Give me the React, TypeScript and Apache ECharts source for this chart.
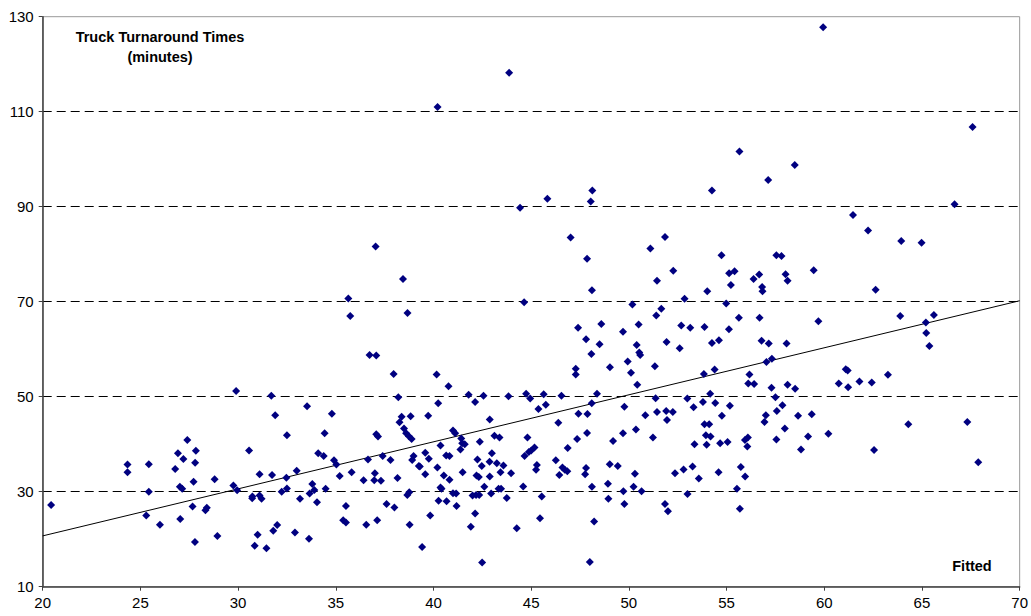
import React, { useEffect, useRef } from "react";
import * as echarts from "echarts";

const xValues: number[] = [
  20.43, 24.34, 24.34, 25.43, 25.43, 25.3, 26.0, 26.78, 26.92, 27.2, 27.4, 27.84, 27.8, 27.02, 27.14, 27.72, 27.67, 27.04, 27.79, 28.33,
  28.4, 28.8, 28.94, 29.9, 29.76, 29.95, 30.56, 30.72, 30.73, 31.1, 31.1, 31.2, 31.0, 30.85, 31.45, 31.74, 31.7, 31.9, 32.0, 31.8,
  32.23, 32.47, 32.5, 32.5, 32.91, 33.0, 33.17, 33.53, 33.66, 33.8, 33.9, 33.63, 34.04, 34.1, 34.38, 34.43, 34.48, 34.8, 34.91, 35.03,
  35.2, 35.52, 35.38, 35.52, 35.81, 36.42, 36.56, 36.65, 37.0, 36.97, 37.07, 37.16, 37.31, 37.12, 37.4, 37.6, 37.8, 38.0, 38.16, 38.2,
  38.26, 38.37, 38.49, 38.6, 38.74, 38.88, 38.83, 38.66, 38.76, 38.78, 38.91, 38.98, 39.25, 39.3, 39.58, 39.58, 39.76, 39.73, 39.42, 39.83,
  40.2, 40.24, 40.36, 40.36, 40.41, 40.26, 40.53, 40.65, 40.67, 40.77, 40.82, 40.82, 41.0, 41.11, 41.0, 41.16, 41.18, 41.42, 41.47, 41.49,
  41.38, 41.6, 41.8, 42.13, 42.56, 41.91, 42.13, 42.0, 42.18, 42.34, 42.6, 42.25, 42.2, 42.32, 42.47, 42.37, 42.49, 42.88, 42.87, 42.99,
  42.88, 42.95, 43.12, 43.24, 43.38, 43.43, 43.33, 43.46, 43.58, 43.75, 43.84, 43.97, 44.26, 44.59, 44.66, 44.81, 44.74, 44.95, 44.88, 45.0,
  45.17, 45.29, 45.25, 45.37, 45.45, 45.64, 45.75, 45.54, 46.26, 46.44, 46.55, 46.39, 46.6, 46.72, 46.85, 46.87, 47.35, 47.42, 47.88, 47.86,
  47.81, 47.76, 48.1, 48.37, 48.11, 48.22, 48.0, 48.93, 48.95, 49.02, 49.19, 49.43, 49.72, 49.77, 49.7, 49.77, 50.24, 50.31, 50.36, 50.43,
  50.65, 50.84, 51.23, 51.37, 51.44, 51.85, 52.0, 51.91, 51.95, 52.25, 52.36, 52.8, 53.0, 52.99, 53.26, 53.31, 53.36, 53.58, 53.79, 53.87,
  54.11, 53.94, 53.98, 54.18, 54.16, 54.42, 54.59, 54.67, 54.76, 55.05, 55.17, 55.53, 55.68, 55.73, 55.95, 55.94, 56.09, 56.06, 56.11, 56.41,
  56.94, 57.01, 57.3, 57.55, 57.5, 57.57, 57.86, 57.98, 58.12, 58.51, 58.66, 58.81, 59.17, 59.36, 60.21, 60.74, 61.22, 61.8, 62.43, 62.55,
  64.3, 67.32, 67.88, 44.43, 37.04, 38.44, 35.64, 35.74, 38.67, 44.64, 36.73, 37.07, 37.96, 40.16, 45.83, 48.13, 48.05, 54.25, 47.02, 47.86,
  48.11, 51.1, 51.85, 52.27, 51.44, 52.85, 54.01, 54.74, 55.13, 55.41, 55.22, 54.98, 56.38, 56.67, 56.82, 56.84, 57.55, 57.81, 58.02, 58.12,
  50.18, 51.4, 51.66, 55.63, 56.69, 47.4, 48.59, 47.81, 48.5, 48.08, 49.7, 50.5, 50.4, 50.53, 50.58, 49.94, 50.11, 49.03, 47.28, 47.28,
  51.33, 51.93, 52.6, 52.68, 53.14, 53.87, 54.25, 54.61, 55.12, 53.84, 54.39, 56.17, 56.79, 57.16, 57.04, 57.32, 58.07, 61.47, 62.24, 59.46,
  63.94, 64.98, 62.63, 66.67, 59.7, 63.89, 65.61, 65.2, 65.22, 65.38, 61.2, 61.1, 63.26, 43.87, 40.21, 55.66, 57.13, 59.94, 58.49, 67.59
];

const yValues: number[] = [
  27.2, 35.75, 34.07, 35.8, 30.0, 25.0, 23.05, 34.77, 38.07, 36.9, 40.9, 38.6, 36.1, 31.05, 30.6, 32.1, 26.9, 24.25, 19.4, 26.1,
  26.6, 32.6, 20.7, 51.2, 31.3, 30.3, 38.7, 28.6, 29.0, 33.65, 29.2, 28.5, 20.95, 18.6, 18.1, 33.5, 50.2, 46.1, 23.0, 21.8,
  30.0, 32.95, 30.7, 41.9, 21.4, 34.4, 28.5, 48.0, 29.6, 31.6, 30.35, 20.1, 27.8, 38.1, 37.5, 42.3, 30.6, 46.4, 36.6, 35.75,
  33.3, 27.0, 24.0, 23.5, 34.1, 32.4, 23.05, 36.8, 33.9, 32.4, 42.1, 41.6, 32.3, 24.0, 37.5, 27.4, 36.7, 26.7, 32.9, 49.9,
  44.6, 45.8, 43.3, 42.3, 41.7, 41.1, 45.9, 29.3, 29.9, 23.05, 36.7, 37.5, 35.4, 35.3, 38.2, 33.65, 36.95, 46.0, 18.35, 25.0,
  35.1, 48.6, 39.75, 30.9, 30.6, 28.1, 33.4, 37.6, 28.0, 52.2, 37.5, 32.5, 42.9, 42.3, 29.7, 29.6, 27.0, 41.2, 40.2, 34.1,
  38.9, 40.0, 50.4, 48.9, 50.2, 22.6, 25.4, 29.2, 29.3, 29.3, 31.05, 36.8, 33.4, 33.1, 35.4, 40.5, 15.1, 45.2, 36.3, 38.1,
  33.2, 29.6, 41.8, 36.0, 41.4, 34.1, 30.6, 30.6, 35.5, 28.7, 50.1, 33.9, 22.3, 31.1, 37.5, 41.4, 50.6, 49.6, 38.35, 38.7,
  39.3, 35.6, 34.6, 47.4, 24.4, 50.5, 48.3, 29.0, 36.6, 33.5, 50.2, 44.5, 35.1, 34.6, 34.3, 39.2, 41.1, 46.4, 46.35, 42.35,
  35.0, 33.65, 48.6, 50.6, 31.05, 23.75, 15.2, 31.7, 28.5, 35.8, 40.7, 35.4, 30.1, 27.4, 42.3, 47.9, 31.05, 33.8, 43.1, 52.5,
  30.1, 46.1, 41.4, 49.65, 46.8, 27.4, 25.9, 47.0, 45.1, 46.8, 33.9, 34.7, 29.5, 49.6, 35.3, 47.8, 40.0, 32.8, 48.9, 44.2,
  44.2, 41.9, 39.9, 41.6, 50.6, 48.7, 34.1, 40.2, 46.0, 40.45, 48.1, 30.6, 26.4, 35.2, 33.2, 40.9, 41.4, 39.5, 52.8, 52.7,
  44.7, 46.1, 51.9, 41.0, 49.9, 47.0, 48.2, 43.3, 52.5, 51.7, 46.0, 38.9, 41.6, 46.3, 42.2, 52.8, 52.0, 53.2, 53.0, 38.8,
  44.2, 44.7, 36.2, 89.8, 81.6, 74.8, 70.7, 67.0, 67.6, 69.9, 58.8, 58.7, 54.8, 54.7, 91.7, 93.4, 91.1, 93.4, 83.5, 79.05,
  72.4, 81.2, 83.6, 76.5, 74.4, 70.6, 72.2, 79.8, 76.0, 76.4, 73.5, 69.6, 74.8, 75.75, 73.1, 72.2, 79.8, 79.6, 75.8, 74.4,
  69.4, 67.1, 68.5, 66.6, 66.6, 64.5, 65.3, 62.1, 61.05, 59.0, 63.7, 65.2, 60.9, 59.3, 58.8, 57.4, 55.05, 56.2, 55.9, 54.7,
  56.4, 61.5, 60.2, 65.0, 64.5, 64.7, 61.3, 61.9, 64.2, 54.8, 55.75, 54.7, 61.8, 61.2, 57.3, 58.0, 61.2, 88.25, 85.0, 76.6,
  82.8, 82.4, 72.5, 90.5, 65.9, 67.0, 67.2, 65.6, 63.4, 60.7, 55.5, 55.8, 54.6, 118.2, 111.0, 101.6, 95.6, 127.8, 98.8, 106.8
];

const fitX: number[] = [20, 70];
const fitY: number[] = [20.7, 70.2];

const yTitleLines: string[] = ["Truck Turnaround Times", "(minutes)"];
const xTitle = "Fitted";

const FONT = "'Liberation Sans', Arial, sans-serif";

export default function App() {
  const ref = useRef<HTMLDivElement>(null);

  useEffect(() => {
    if (!ref.current) return;
    const chart = echarts.init(ref.current, undefined, { renderer: "svg" });
    const points = xValues.map((x, i) => [x, yValues[i]]);
    const fit = fitX.map((x, i) => [x, fitY[i]]);
    const titleStyle = {
      fontSize: 14.5,
      fontWeight: "bold",
      fontFamily: FONT,
      fill: "#000",
      textAlign: "center",
      textVerticalAlign: "middle",
    };
    chart.setOption({
      animation: false,
      backgroundColor: "#ffffff",
      grid: {
        left: 42.7,
        right: 10.5,
        top: 16.7,
        bottom: 29.3,
        show: true,
        borderColor: "#999999",
        borderWidth: 1,
        backgroundColor: "transparent",
      },
      xAxis: {
        type: "value",
        min: 20,
        max: 70,
        interval: 5,
        axisLine: { show: true, onZero: false, lineStyle: { color: "#404040", width: 1.5 } },
        axisTick: { show: true, inside: false, length: 4, lineStyle: { color: "#404040" } },
        axisLabel: { color: "#000", fontSize: 15, fontFamily: FONT, margin: 8 },
        splitLine: { show: false },
      },
      yAxis: {
        type: "value",
        min: 10,
        max: 130,
        interval: 20,
        axisLine: { show: true, onZero: false, lineStyle: { color: "#404040", width: 1.5 } },
        axisTick: { show: true, inside: false, length: 4, lineStyle: { color: "#404040" } },
        axisLabel: { color: "#000", fontSize: 15, fontFamily: FONT, margin: 9 },
        splitLine: {
          show: true,
          showMinLine: false,
          showMaxLine: false,
          lineStyle: { color: "#000000", type: [9, 5], width: 1 },
        },
      },
      series: [
        {
          type: "line",
          data: fit,
          showSymbol: false,
          symbol: "none",
          lineStyle: { color: "#000000", width: 1 },
          silent: true,
          z: 2,
        },
        {
          type: "scatter",
          data: points,
          symbol: "diamond",
          symbolSize: 8,
          itemStyle: { color: "#000080", opacity: 1 },
          z: 3,
        },
      ],
      graphic: [
        { type: "text", x: 160, y: 37, style: { ...titleStyle, text: yTitleLines[0] } },
        { type: "text", x: 160, y: 57, style: { ...titleStyle, text: yTitleLines[1] } },
        { type: "text", x: 972, y: 566, style: { ...titleStyle, text: xTitle } },
      ],
    });
    return () => chart.dispose();
  }, []);

  return (
    <div
      ref={ref}
      style={{ position: "fixed", left: 0, top: 0, width: 1031, height: 616, background: "#fff" }}
    />
  );
}
